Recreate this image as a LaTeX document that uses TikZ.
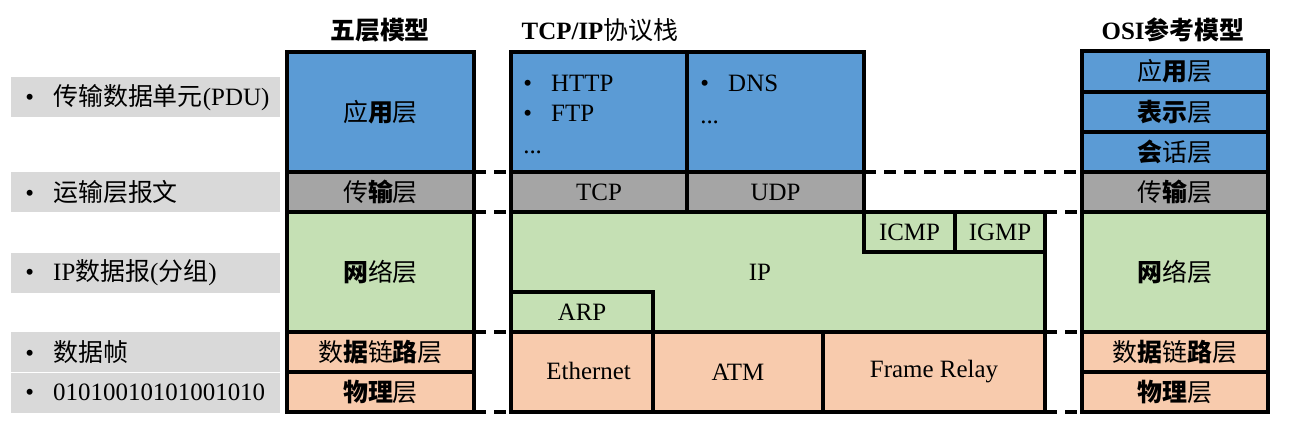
\documentclass[tikz,border=0pt]{standalone}
\usepackage{fontspec}
\setmainfont{Liberation Serif}
\newfontfamily\cjk{Noto Sans CJK SC}
\usepackage{tikz}
\usetikzlibrary{positioning,calc}
\definecolor{appblue}{RGB}{91,155,213}
\definecolor{transgray}{RGB}{165,165,165}
\definecolor{netgreen}{RGB}{197,224,180}
\definecolor{linkpeach}{RGB}{248,203,173}
\definecolor{lblgray}{RGB}{217,217,217}
\newcommand{\bul}{\makebox[21pt][l]{\textbullet}}

\begin{document}
\begin{tikzpicture}[x=0.75pt,y=-0.75pt,
  txt/.style={font=\fontsize{18.7}{22.5}\selectfont},
  layer/.style={txt, draw, line width=2.6pt, inner sep=0pt, outer sep=0pt},
  size/.style args={#1x#2}{minimum width=#1*0.75pt, minimum height=#2*0.75pt},
  pdu/.style={txt, fill=lblgray, anchor=west, minimum height=30pt, text width=180.75pt, inner xsep=10.5pt, align=left},
  title/.style={txt, font=\fontsize{18.7}{22.5}\selectfont\bfseries},
  sep/.style={line width=2.6pt, dash pattern=on 9pt off 6pt}]
\useasboundingbox (0,0) rectangle (1293,442);

% Left column: data units
\node[pdu] (pduApp) at (11,97.5) {\bul{\cjk 传输数据单元}(PDU)};
\node[pdu] (pduTrans) at (11,192) {\bul{\cjk 运输层报文}};
\node[pdu] (pduNet) at (11,273) {\bul IP{\cjk 数据报}({\cjk 分组})};
\node[pdu] (pduLink) at (11,352) {\bul{\cjk 数据帧}};
\node[pdu] (pduPhy) at (11,392.5) {\bul 01010010101001010};

% Five layer model
\node[title] (t5) at (380,30) {\cjk 五层模型};
\node[layer, fill=appblue, size=187x120] (app5) at (380.5,112) {\cjk 应\textbf{用}层};
\node[layer, fill=transgray, size=187x40] (trans5) at (380.5,192) {\cjk 传\textbf{输}层};
\node[layer, fill=netgreen, size=187x120] (net5) at (380.5,272) {\cjk \textbf{网}络层};
\node[layer, fill=linkpeach, size=187x40] (link5) at (380.5,352) {\cjk 数\textbf{据}链\textbf{路}层};
\node[layer, fill=linkpeach, size=187x40] (phy5) at (380.5,392) {\cjk \textbf{物理}层};

% TCP/IP stack
\node[title] (ttcp) at (600,30) {TCP/IP{\cjk\mdseries 协议栈}};
\node[layer, fill=appblue, size=176x120] (http) at (599,112) {};
\node[layer, fill=appblue, size=177x120] (dns) at (775.5,112) {};
\node[txt, anchor=north west, align=left, inner sep=0pt] (httplist) at (523,75) {\bul HTTP\\ \bul FTP\\[1.5pt] ...};
\node[txt, anchor=north west, align=left, inner sep=0pt] (dnslist) at (700,75) {\bul DNS\\[1.5pt] ...};
\node[layer, fill=transgray, size=176x40] (tcp) at (599,192) {TCP};
\node[layer, fill=transgray, size=177x40] (udp) at (775.5,192) {UDP};
\node[layer, fill=netgreen, size=534x120] (ip) at (778,272) {};
\node[txt] (iplbl) at (760,272) {IP};
\node[layer, fill=netgreen, size=91x40] (icmp) at (909.5,232) {ICMP};
\node[layer, fill=netgreen, size=90x40] (igmp) at (1000,232) {IGMP};
\node[layer, fill=netgreen, size=142x40] (arp) at (582,312) {ARP};
\node[layer, fill=linkpeach, size=142x80, text depth=2pt] (eth) at (582,372) {\hspace{10pt}Ethernet};
\node[layer, fill=linkpeach, size=170x80] (atm) at (738,372) {ATM};
\node[layer, fill=linkpeach, size=222x80] (frelay) at (934,372) {Frame Relay};

% OSI reference model
\node[title] (tosi) at (1173,30) {OSI{\cjk 参考模型}};
\node[layer, fill=appblue, size=186x41] (osiApp) at (1175,71.5) {\cjk 应\textbf{用}层};
\node[layer, fill=appblue, size=186x40] (osiPre) at (1175,112) {\cjk \textbf{表示}层};
\node[layer, fill=appblue, size=186x40] (osiSes) at (1175,152) {\cjk \textbf{会}话层};
\node[layer, fill=transgray, size=186x40] (osiTrans) at (1175,192) {\cjk 传\textbf{输}层};
\node[layer, fill=netgreen, size=186x120] (osiNet) at (1175,272) {\cjk \textbf{网}络层};
\node[layer, fill=linkpeach, size=186x40] (osiLink) at (1175,352) {\cjk 数\textbf{据}链\textbf{路}层};
\node[layer, fill=linkpeach, size=186x40] (osiPhy) at (1175,392) {\cjk \textbf{物理}层};

% Dashed layer boundaries
\draw[sep] (app5.south east) -- (http.south west);
\draw[sep] (trans5.south east) -- (tcp.south west);
\draw[sep] (net5.south east) -- (arp.south west);
\draw[sep] (phy5.south east) -- (eth.south west);
\draw[sep] (dns.south east) -- (osiSes.south west);
\draw[sep] (igmp.north east) -- (osiTrans.south west);
\draw[sep] (ip.south east) -- (osiNet.south west);
\draw[sep] (frelay.south east) -- (osiPhy.south west);
\end{tikzpicture}
\end{document}
